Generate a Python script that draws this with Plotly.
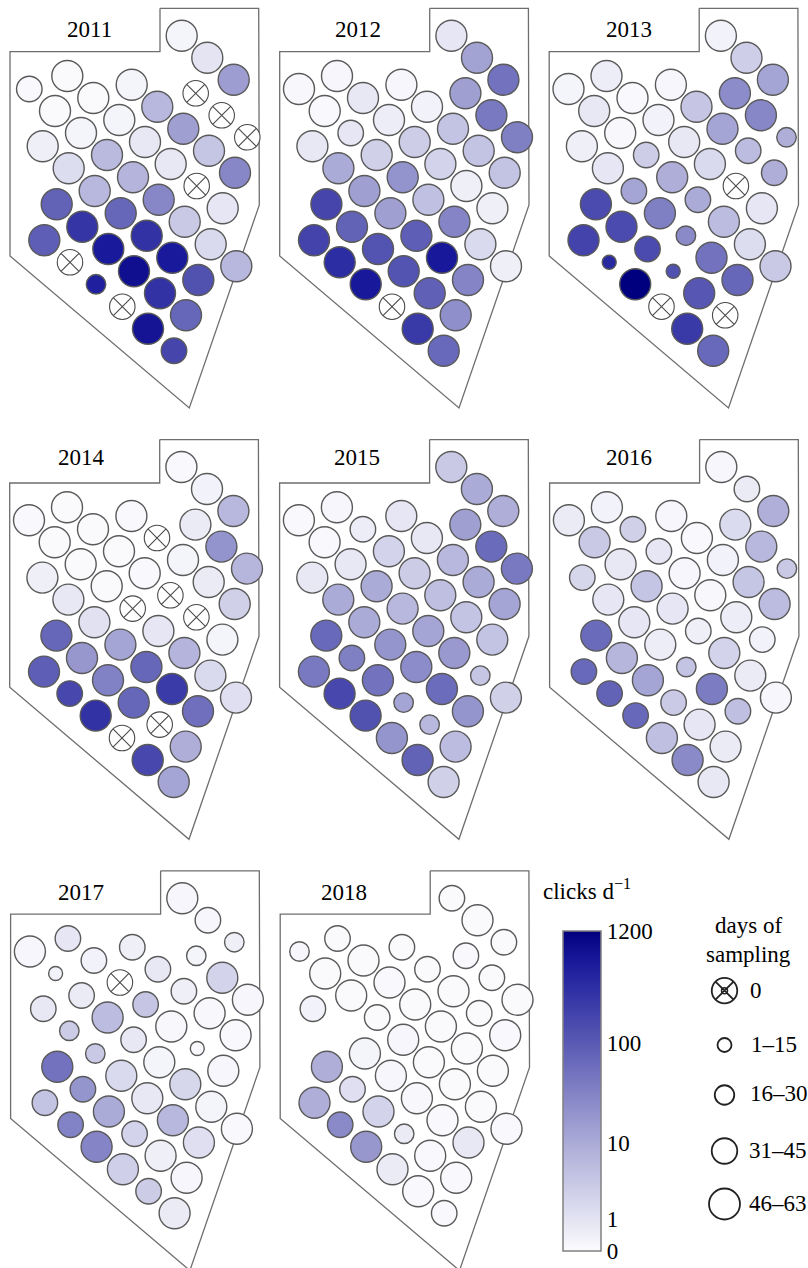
import math
import plotly.graph_objects as go

# Station positions on the map (map units, common to every panel)
station_x = [181.7,207.3,233.7, 195.7,221.7,247.3, 131.7,157.3,183.3,209.0,235.0,
             67.3,93.3,119.3,145.0,170.7,196.7,222.7,
             29.3,55.0,81.0,107.0,133.0,158.7,184.7,210.7,236.3,
             42.7,68.7,94.7,120.7,146.7,172.3,198.3,
             56.7,82.3,108.3,134.0,160.0,186.0,
             44.3,70.0,96.0,122.3,148.0,174.0]
station_y = [35.7,57.7,79.7, 93.3,115.3,137.3, 84.7,106.7,128.7,150.7,172.7,
             76.0,98.0,120.0,142.0,164.0,186.0,208.3,
             89.0,111.0,133.0,155.0,177.3,199.7,221.7,244.3,266.3,
             146.3,168.3,191.0,213.3,235.7,257.7,280.0,
             204.3,226.7,249.0,271.3,293.3,315.3,
             240.3,262.3,284.3,306.7,328.7,350.7]
border_x = [160.0,258.7,259.3,189.3,10.0,10.0,160.0,160.0]
border_y = [8.3,8.3,205.0,408.0,256.0,51.7,51.7,8.3]

years = [2011,2012,2013,2014,2015,2016,2017,2018]
panel_dx = [0.0,269.7,539.2,-0.3,269.6,539.6,0.6,270.2]
panel_dy = [0.0,0.0,0.0,431.3,431.3,431.3,862.5,862.5]
label_x = [89,357.7,628.7,81,356.7,629.3,81,344]
label_y = [29.3,29.3,29.3,457,457,457,892.3,892.3]

clicks_2011 = [0.3,1,15, None,None,None, 0.3,6,14,3.5,28, 0.05,0.05,0.3,0.8,0.8,None,0.9,
               0.1,0.05,0.3,5.5,7,28,3,1.5,6, 0.5,1.3,6,70,300,600,130,
               80,280,600,800,300,70, 90,None,500,None,700,180]
days_2011 = [55,55,55, 0,0,0, 55,55,55,55,55, 55,55,55,55,55,0,55,
             38,55,55,55,55,55,55,55,55, 55,55,55,55,55,55,55,
             55,55,55,55,55,55, 55,0,23,0,55,38]
clicks_2012 = [0.9,13,50, 14,42,35, 0.2,0.4,3.8,3.8,3.8, 0.2,0.8,0.6,2.5,2,0.5,0.5,
               0.15,0.1,0.9,2.2,20,4.2,30,1.5,0.5, 0.8,10,14,14,90,620,30,
               180,80,120,120,85,22, 190,350,620,None,250,65]
days_2012 = [55,55,55, 55,55,55, 55,55,55,55,55, 55,55,55,55,55,55,55,
             55,55,38,55,55,55,55,55,55, 55,55,55,55,55,55,55,
             55,55,55,55,55,55, 55,55,55,0,55,55]
clicks_2013 = [0.4,2.4,12, 24,28,9, 0.2,3.4,12,5,9, 0.6,0.1,0.4,0.8,1.5,None,0.9,
               0.3,0.8,0.15,2.5,9,10,5,1.3,3, 0.5,0.9,12,35,26,50,70,
               150,150,150,130,110,None, 190,400,1200,None,250,65]
days_2013 = [55,55,55, 55,55,23, 55,55,55,38,38, 55,55,55,55,55,0,55,
             55,55,55,38,55,38,55,55,55, 55,55,38,55,23,55,55,
             55,55,38,8,55,0, 55,8,55,0,55,55]
clicks_2014 = [0.1,0.4,6, 0.7,20,6.5, 0.1,None,0.3,0.7,2.2, 0.05,0.05,0.05,0.1,None,None,0.3,
               0.1,0.05,0.05,0.05,None,0.9,7,1.5,1.2, 0.5,0.8,1.1,12,70,240,55,
               70,18,33,70,None,9, 90,170,300,None,170,12]
days_2014 = [55,55,55, 55,55,55, 55,0,55,55,55, 55,55,55,55,0,0,55,
             55,55,55,55,0,55,55,55,55, 55,55,55,55,55,55,55,
             55,55,55,55,0,55, 55,38,55,0,55,55]
clicks_2015 = [3,10,9, 14,62,42, 0.9,0.8,6,10,12, 0.2,0.6,2,2.6,4.5,3.8,3.8,
               0.1,0.1,0.8,10,6,12,17,3.5,2.2, 0.8,10,10,19,24,60,19,
               65,35,50,12,6,5, 42,170,130,19,80,2.2]
days_2015 = [55,55,55, 55,55,55, 55,55,55,55,55, 55,38,55,55,55,55,55,
             55,55,55,55,55,55,55,23,55, 55,55,55,55,55,55,55,
             55,38,55,23,23,55, 55,55,55,55,55,55]
clicks_2016 = [0.2,0.7,8.5, 1.4,6,3, 0.2,0.1,0.4,3.5,5, 0.4,2.2,0.9,0.2,0.15,0.6,0.4,
               0.7,3,0.8,3.6,0.9,0.5,2,0.7,0.2, 1.7,0.9,0.9,0.6,3.8,38,4.5,
               62,6.5,12,2.8,0.9,0.7, 65,80,68,4.5,26,0.8]
days_2016 = [55,38,55, 55,55,23, 55,55,55,55,55, 55,38,38,55,55,55,38,
             55,55,55,55,55,38,55,55,55, 38,55,55,55,23,55,38,
             55,55,55,38,55,55, 38,38,38,55,55,55]
clicks_2017 = [0.2,0.2,0.5, 0.3,2,0.2, 0.5,0.8,0.5,0.15,0.1, 0.9,0.4,None,3.4,0.15,0.1,0.2,
               0.2,0.4,0.7,5,0.8,0.3,1.7,0.3,0.1, 0.8,2.6,3,1.5,0.8,6,1.2,
               50,19,10,2,0.5,0.2, 3.8,32,30,2.3,2.6,0.7]
days_2017 = [55,38,23, 23,55,55, 38,38,38,55,55, 38,38,0,38,55,8,55,
             55,8,38,55,38,55,55,55,55, 38,23,23,55,55,55,55,
             55,38,55,38,55,55, 38,38,55,55,38,55]
clicks_2018 = [0.05,0.05,0.05, 0.1,0.05,0.05, 0.05,0.05,0.05,0.05,0.1, 0.05,0.05,0.1,0.05,0.05,0.05,0.05,
               0.2,0.05,0.05,0.05,0.2,0.05,0.05,0.05,0.1, 0.4,None,0.3,0.2,0.15,0.1,0.8,
               9,1.2,2,0.7,0.1,0.1, 9,26,18,0.7,0.1,0.1]
days_2018 = [38,55,38, 38,38,55, 38,38,55,38,55, 38,55,55,55,55,55,55,
             23,55,55,38,55,55,55,55,55, 38,None,55,55,55,55,55,
             55,38,55,23,55,55, 55,38,55,55,55,38]
clicks_by_year = [clicks_2011,clicks_2012,clicks_2013,clicks_2014,clicks_2015,clicks_2016,clicks_2017,clicks_2018]
days_by_year = [days_2011,days_2012,days_2013,days_2014,days_2015,days_2016,days_2017,days_2018]

colorbar_values = [0,1,10,100,1200]
colorbar_labels = ["0","1","10","100","1200"]
legend_days = [0,8,23,38,55]
legend_labels = ["0","1–15","16–30","31–45","46–63"]

FONT = "Liberation Serif"
FS = 23
OUTLINE = "#5a5a5a"


def scale_pos(c):
    """Position on the colour bar, whose scale is logarithmic above 1."""
    stops_v = [0, 1, 2, 3, 1 + math.log10(1200)]
    stops_p = [0.0, 0.098, 0.3375, 0.65, 1.0]
    v = c if c < 1 else 1 + math.log10(c)
    for i in range(4):
        if v <= stops_v[i + 1]:
            f = (v - stops_v[i]) / (stops_v[i + 1] - stops_v[i])
            return stops_p[i] + f * (stops_p[i + 1] - stops_p[i])
    return 1.0


def diameter(d):
    if d == 0 or 31 <= d <= 45:
        return 25.5
    if d <= 15:
        return 14
    if d <= 30:
        return 19.5
    return 31


fig = go.Figure()
for k, year in enumerate(years):
    dx, dy = panel_dx[k], panel_dy[k]
    fig.add_trace(go.Scatter(x=[v + dx for v in border_x], y=[v + dy for v in border_y], mode="lines",
                             line=dict(color="#6e6e6e", width=1.3), hoverinfo="skip", showlegend=False))
    clicks, days = clicks_by_year[k], days_by_year[k]
    idx = [i for i in range(len(days)) if days[i] not in (None, 0)]
    fig.add_trace(go.Scatter(
        x=[station_x[i] + dx for i in idx], y=[station_y[i] + dy for i in idx], mode="markers",
        marker=dict(size=[diameter(days[i]) for i in idx], opacity=1,
                    color=[scale_pos(clicks[i]) for i in idx], coloraxis="coloraxis",
                    line=dict(color=OUTLINE, width=1.4)),
        name=str(year), showlegend=False))
    idx0 = [i for i in range(len(days)) if days[i] == 0]
    if idx0:
        fig.add_trace(go.Scatter(
            x=[station_x[i] + dx for i in idx0], y=[station_y[i] + dy for i in idx0], mode="markers",
            marker=dict(size=25.5, symbol="circle-x", color="white", opacity=1,
                        line=dict(color="#4a4a4a", width=1.1)),
            hoverinfo="skip", showlegend=False))
    fig.add_annotation(x=label_x[k], y=label_y[k], text=str(year), showarrow=False,
                       font=dict(family=FONT, size=FS, color="black"))

# size legend
leg_x = 724.5
leg_y = [990.7, 1045, 1095, 1151, 1204]
leg_tx = [748, 749, 748, 747, 747]
leg_ty = [990.7, 1044, 1093, 1150, 1203]
fig.add_trace(go.Scatter(x=[leg_x] * 5, y=leg_y, mode="markers",
                         marker=dict(size=[diameter(d) for d in legend_days], opacity=1,
                                     symbol=["circle-x" if d == 0 else "circle" for d in legend_days],
                                     color="white", line=dict(color="#222222", width=1.8)),
                         hoverinfo="skip", showlegend=False))
fig.add_trace(go.Scatter(x=[leg_x], y=[leg_y[0]], mode="markers",
                         marker=dict(size=6, symbol="circle-x", color="white", line=dict(color="#222222", width=1.5)),
                         hoverinfo="skip", showlegend=False))
for t, tx, ty in zip(legend_labels, leg_tx, leg_ty):
    fig.add_annotation(x=tx, y=ty, text=t, showarrow=False, xanchor="left",
                       font=dict(family=FONT, size=FS, color="black"))
fig.add_annotation(x=748.3, y=925, text="days of", showarrow=False, font=dict(family=FONT, size=FS, color="black"))
fig.add_annotation(x=748.3, y=954, text="sampling", showarrow=False, font=dict(family=FONT, size=FS, color="black"))
fig.add_annotation(x=541, y=889, text="clicks d<sup>−1</sup>", showarrow=False, xanchor="left",
                   font=dict(family=FONT, size=FS, color="black"))

fig.update_layout(
    width=808, height=1268, margin=dict(l=0, r=0, t=0, b=0),
    paper_bgcolor="white", plot_bgcolor="white", showlegend=False,
    xaxis=dict(range=[0, 808], visible=False, fixedrange=True),
    yaxis=dict(range=[1268, 0], visible=False, fixedrange=True),
    coloraxis=dict(
        cmin=0, cmax=1,
        colorscale=[[0, "#fbfbfe"], [0.35, "#a8a8d6"], [0.65, "#5a5ab4"], [0.9, "#1a1a9c"], [1, "#00007f"]],
        colorbar=dict(
            x=562.5 / 808, xanchor="left", xpad=0, ypad=0,
            y=(1268 - 1250.7) / 1268, yanchor="bottom",
            lenmode="pixels", len=320, thicknessmode="pixels", thickness=38,
            outlinecolor="#808080", outlinewidth=1.5,
            ticks="", tickmode="array",
            tickvals=[scale_pos(v) for v in colorbar_values], ticktext=colorbar_labels,
            tickfont=dict(family=FONT, size=FS, color="black"),
        ),
    ),
)
fig.write_html("out.html", config={"displayModeBar": False},
               post_script="document.body.style.margin='0';")
